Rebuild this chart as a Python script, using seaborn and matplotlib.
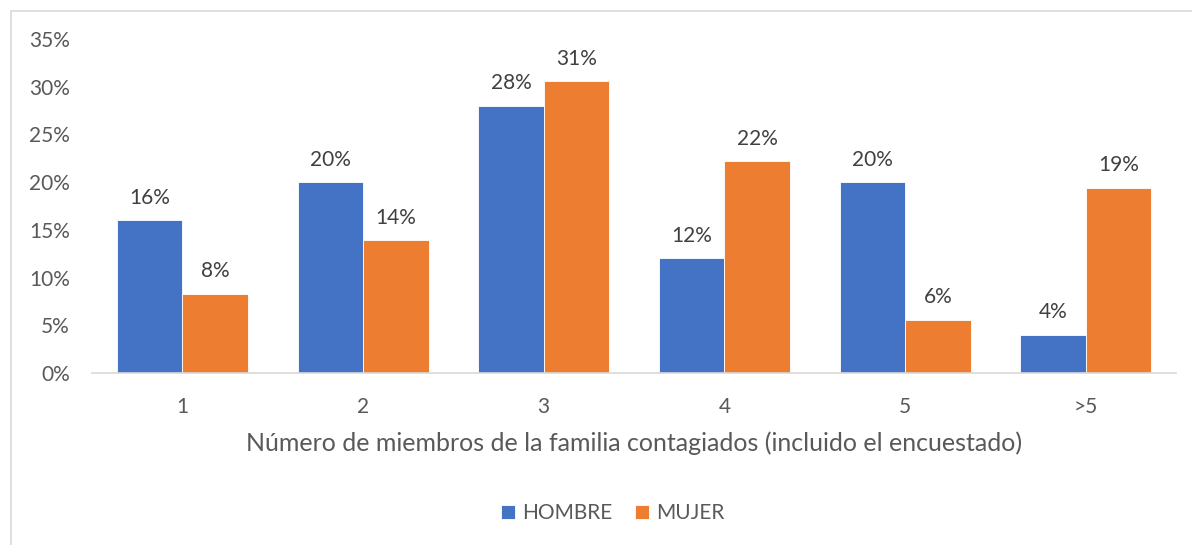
import numpy as np
import pandas as pd
import seaborn as sns
import matplotlib.pyplot as plt
from matplotlib.patches import Rectangle
from matplotlib.ticker import PercentFormatter

# datos
categorias = ["1", "2", "3", "4", "5", ">5"]
hombre = [16.0, 20.0, 28.0, 12.0, 20.0, 4.0]
mujer = [8.3, 13.9, 30.6, 22.2, 5.6, 19.4]
series = ["HOMBRE", "MUJER"]
colores = ["#4472C4", "#ED7D31"]

df = pd.DataFrame({
    "cat": categorias * 2,
    "sexo": [series[0]] * 6 + [series[1]] * 6,
    "valor": hombre + mujer,
})

sns.set_theme(style="white")
plt.rcParams['font.family'] = ['Lato', 'DejaVu Sans']
gris = "#595959"

fig = plt.figure(figsize=(11.92, 5.45), dpi=100)
ax = fig.add_axes([0.0772, 0.3156, 0.9094, 0.6128])

sns.barplot(data=df, x="cat", y="valor", hue="sexo", palette=colores,
            width=0.725, ax=ax, edgecolor="white", linewidth=0.6, saturation=1)

ax.set_ylim(0, 35)
ax.set_yticks(np.arange(0, 36, 5))
ax.yaxis.set_major_formatter(PercentFormatter(decimals=0))
ax.set_xlim(-0.5, 5.5)

for cont in ax.containers:
    ax.bar_label(cont, labels=[f"{v:.0f}%" for v in cont.datavalues],
                 padding=9, fontsize=15, color="#404040")

ax.tick_params(axis="both", labelsize=15, labelcolor=gris, length=0)
ax.tick_params(axis="y", pad=16)
ax.tick_params(axis="x", pad=17)
ax.set_xlabel("Número de miembros de la familia contagiados (incluido el encuestado)",
              fontsize=18, color=gris, labelpad=11)
ax.set_ylabel("")
for s in ["top", "right", "left"]:
    ax.spines[s].set_visible(False)
ax.spines["bottom"].set_color("#D9D9D9")
ax.spines["bottom"].set_linewidth(1.2)

ax.legend(loc="center", bbox_to_anchor=(0.514, 0.058), bbox_transform=fig.transFigure,
          ncol=2, frameon=False, fontsize=15, handlelength=0.65, handleheight=0.65,
          handletextpad=0.35, columnspacing=1.1, labelcolor=gris)

# borde del area del grafico
fig.patches.append(Rectangle((11 / 1192, -0.01), 1.0, 1 - 11 / 545 + 0.01,
                             transform=fig.transFigure, fill=False,
                             edgecolor="#D9D9D9", linewidth=1.2))

fig.savefig("out.png", dpi=100)
